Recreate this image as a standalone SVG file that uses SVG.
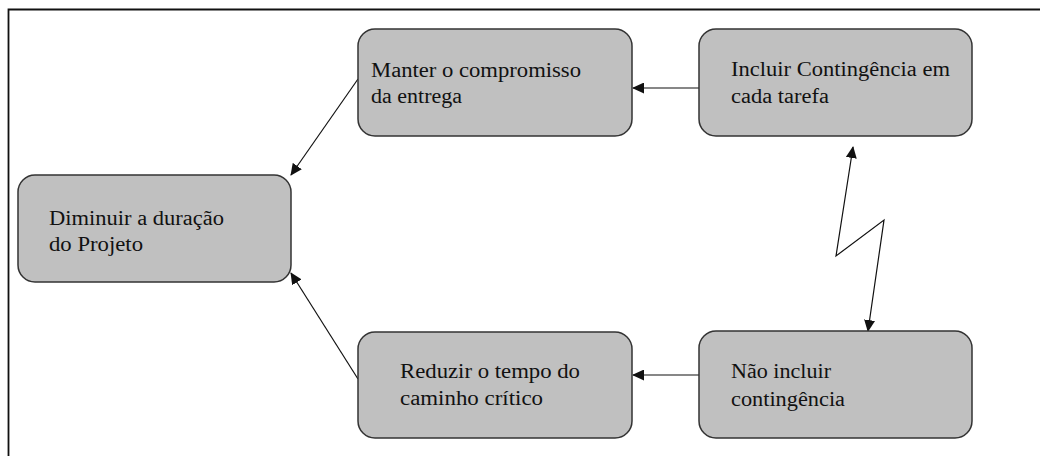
<svg xmlns="http://www.w3.org/2000/svg" width="1040" height="456" viewBox="0 0 1040 456">
<style>
.node rect{fill:#c0c0c0;stroke:#333;stroke-width:1.5}
.node text{font-family:"Liberation Serif","Times New Roman",serif;font-size:20.5px;fill:#111}
.conn line,.conn polyline{stroke:#111;stroke-width:1.2;fill:none}
</style>
<defs>
<marker id="ah" markerUnits="userSpaceOnUse" markerWidth="12" markerHeight="11" refX="11" refY="5.5" orient="auto-start-reverse" viewBox="0 0 12 11">
<path d="M0,0 L12,5.5 L0,11 Z" fill="#111"/>
</marker>
</defs>
<rect x="0" y="0" width="1040" height="456" fill="#fff"/>
<path d="M8.5,456 V9.5 H1040" fill="none" stroke="#111" stroke-width="1.8"/>
<g class="conn" id="connectors">
<line x1="699" y1="88" x2="633" y2="88" marker-end="url(#ah)"/>
<line x1="699" y1="375" x2="633" y2="375" marker-end="url(#ah)"/>
<line x1="358" y1="79" x2="291" y2="175" marker-end="url(#ah)"/>
<line x1="358" y1="379" x2="291" y2="273" marker-end="url(#ah)"/>
<polyline points="853,147 836,256 884,220 868,331" marker-start="url(#ah)" marker-end="url(#ah)"/>
</g>
<g class="node" id="n-manter">
<rect x="358" y="29" width="274" height="107" rx="17"/>
<text x="371" y="77" textLength="210" lengthAdjust="spacingAndGlyphs">Manter o compromisso</text>
<text x="371" y="103" textLength="91" lengthAdjust="spacingAndGlyphs">da entrega</text>
</g>
<g class="node" id="n-incluir">
<rect x="699" y="29" width="273" height="107" rx="17"/>
<text x="731" y="76" textLength="219" lengthAdjust="spacingAndGlyphs">Incluir Contingência em</text>
<text x="731" y="103" textLength="98" lengthAdjust="spacingAndGlyphs">cada tarefa</text>
</g>
<g class="node" id="n-diminuir">
<rect x="18" y="175" width="273" height="107" rx="17"/>
<text x="49" y="225" textLength="175" lengthAdjust="spacingAndGlyphs">Diminuir a duração</text>
<text x="49" y="251" textLength="94" lengthAdjust="spacingAndGlyphs">do Projeto</text>
</g>
<g class="node" id="n-reduzir">
<rect x="358" y="332" width="274" height="106" rx="17"/>
<text x="400" y="378" textLength="180" lengthAdjust="spacingAndGlyphs">Reduzir o tempo do</text>
<text x="400" y="405" textLength="143" lengthAdjust="spacingAndGlyphs">caminho crítico</text>
</g>
<g class="node" id="n-nao">
<rect x="699" y="331" width="273" height="107" rx="17"/>
<text x="731" y="378" textLength="100" lengthAdjust="spacingAndGlyphs">Não incluir</text>
<text x="731" y="406" textLength="114" lengthAdjust="spacingAndGlyphs">contingência</text>
</g>
</svg>
